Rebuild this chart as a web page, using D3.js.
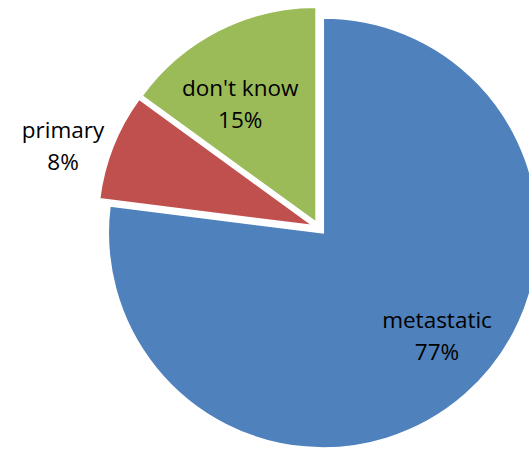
<!DOCTYPE html>
<html><head><meta charset="utf-8">
<script src="https://cdn.jsdelivr.net/npm/d3@7"></script>
<style>html,body{margin:0;padding:0;background:#fff;overflow:hidden}</style>
</head><body>
<svg id="chart" width="529" height="449"></svg>
<script>
const categories = ["metastatic", "primary", "don't know"];
const values = [77, 8, 15];
const colors = ["#4F81BD", "#C0504D", "#9BBB59"];

const svg = d3.select("#chart");
const cx = 319, cy = 228, r = 215, explode = 6.5;
const labelFactor = {"metastatic": 0.714, "primary": 1.22, "don't know": 0.653};
const labelShift = {"metastatic": -6.4, "primary": -3.9, "don't know": -5.7};

const pie = d3.pie().sort(null).value(d => d.v);
const data = pie(categories.map((c, i) => ({c, v: values[i], col: colors[i]})));
const arc = d3.arc().innerRadius(0).outerRadius(r);

const g = svg.append("g").attr("transform", `translate(${cx},${cy})`);
data.forEach(d => {
  const mid = (d.startAngle + d.endAngle) / 2;
  const dx = Math.sin(mid) * explode, dy = -Math.cos(mid) * explode;
  const sg = g.append("g").attr("transform", `translate(${dx},${dy})`);
  sg.append("path").attr("d", arc(d)).attr("fill", d.data.col)
    .attr("stroke", "#fff").attr("stroke-width", 1.5);
  const la = mid + labelShift[d.data.c] * Math.PI / 180;
  const lr = r * labelFactor[d.data.c];
  const lx = Math.sin(la) * lr, ly = -Math.cos(la) * lr;
  const t = sg.append("text").attr("text-anchor", "middle")
    .attr("font-family", "'Open Sans', sans-serif").attr("font-size", 22.5)
    .attr("fill", "#000");
  t.append("tspan").attr("x", lx).attr("y", ly - 16).attr("dy", "0.35em").text(d.data.c);
  t.append("tspan").attr("x", lx).attr("y", ly + 16).attr("dy", "0.35em").text(d.data.v + "%");
});
</script>
</body></html>
